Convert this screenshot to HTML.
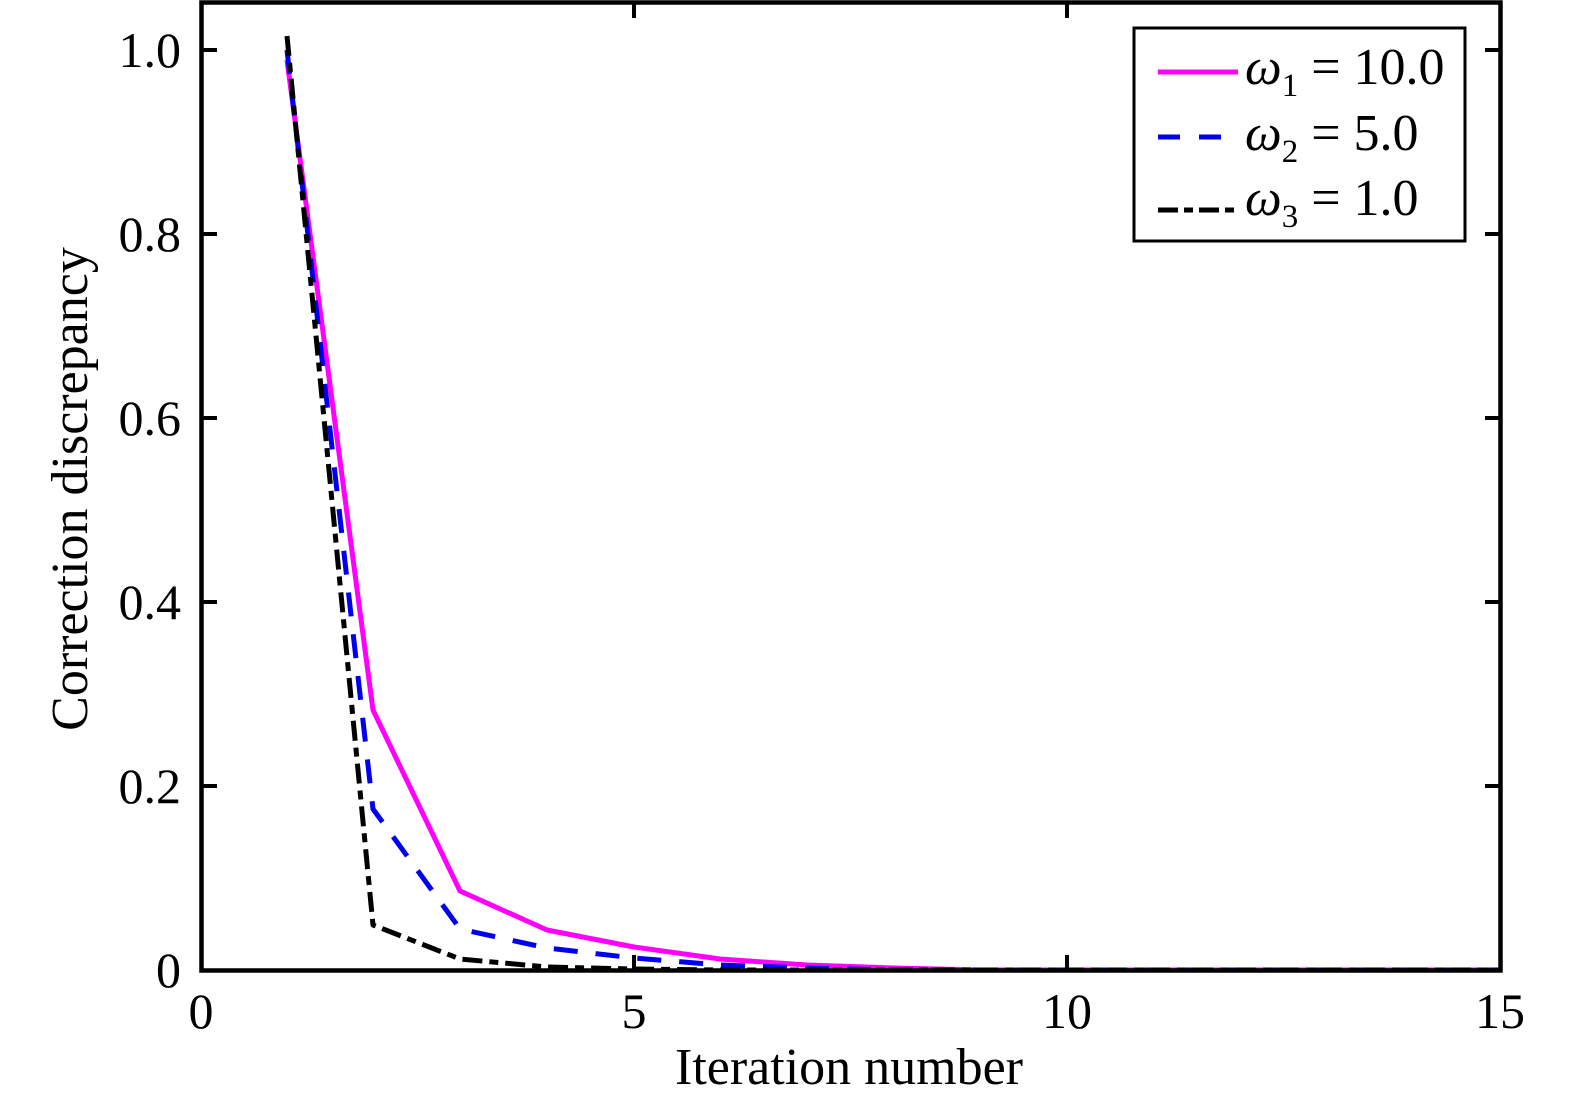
<!DOCTYPE html>
<html><head><meta charset="utf-8"><style>
html,body{margin:0;padding:0;background:#fff;}
svg{display:block;}
text{font-family:"Liberation Serif",serif;fill:#000;}
</style></head><body>
<svg width="1575" height="1104" viewBox="0 0 1575 1104" xmlns="http://www.w3.org/2000/svg">
<rect x="0" y="0" width="1575" height="1104" fill="#fff"/>
<g fill="none" stroke-width="5" stroke-linejoin="round">
<polyline stroke="#ff00ff" points="287,60 373,710 460,891 547,930 634,947 720,959 807,965 894,968 980,970 1067,970 1154,970 1241,970 1328,970 1414,970 1501,970"/>
<polyline stroke="#0000ee" stroke-dasharray="24,18" points="287,50 373,809 460,929 547,948 634,958 720,965 807,968 894,970 980,970 1067,970 1154,970 1241,970 1328,970 1414,970 1501,970"/>
<polyline stroke="#000" stroke-dasharray="20,7,9,7" points="287,36 373,925 460,959 547,967 634,969 720,970 807,970 894,970 980,970 1067,970 1154,970 1241,970 1328,970 1414,970 1501,970"/>
</g>
<rect x="201.5" y="2.5" width="1299" height="968" fill="none" stroke="#000" stroke-width="4.5"/>
<g stroke="#000" stroke-width="4">
<line x1="203" y1="50" x2="217" y2="50"/><line x1="203" y1="234" x2="217" y2="234"/><line x1="203" y1="418" x2="217" y2="418"/><line x1="203" y1="602" x2="217" y2="602"/><line x1="203" y1="786" x2="217" y2="786"/>
<line x1="1499" y1="50" x2="1485" y2="50"/><line x1="1499" y1="234" x2="1485" y2="234"/><line x1="1499" y1="418" x2="1485" y2="418"/><line x1="1499" y1="602" x2="1485" y2="602"/><line x1="1499" y1="786" x2="1485" y2="786"/>
<line x1="634" y1="969" x2="634" y2="955"/><line x1="1067" y1="969" x2="1067" y2="955"/>
<line x1="634" y1="4" x2="634" y2="18"/><line x1="1067" y1="4" x2="1067" y2="18"/>
</g>
<g font-size="50" text-anchor="end">
<text x="181" y="67">1.0</text><text x="181" y="251">0.8</text><text x="181" y="435">0.6</text><text x="181" y="619">0.4</text><text x="181" y="803">0.2</text><text x="181" y="987">0</text>
</g>
<g font-size="50" text-anchor="middle">
<text x="201" y="1028">0</text><text x="634" y="1028">5</text><text x="1067" y="1028">10</text><text x="1500" y="1028">15</text>
</g>
<text x="849" y="1084" font-size="52" text-anchor="middle">Iteration number</text>
<text transform="translate(87,489) rotate(-90)" font-size="52" text-anchor="middle">Correction discrepancy</text>
<rect x="1134" y="28" width="331" height="213" fill="#fff" stroke="#000" stroke-width="3"/>
<g stroke-width="5">
<line x1="1158" y1="72" x2="1238" y2="72" stroke="#ff00ff"/>
<line x1="1158" y1="137" x2="1238" y2="137" stroke="#0000ee" stroke-dasharray="22,19"/>
<line x1="1158" y1="210" x2="1238" y2="210" stroke="#000" stroke-dasharray="20,6,9,6"/>
</g>
<g font-size="52">
<text x="1245" y="84"><tspan font-style="italic">ω</tspan><tspan font-size="33" dy="12">1</tspan><tspan dy="-12"> = 10.0</tspan></text>
<text x="1245" y="150"><tspan font-style="italic">ω</tspan><tspan font-size="33" dy="12">2</tspan><tspan dy="-12"> = 5.0</tspan></text>
<text x="1245" y="215"><tspan font-style="italic">ω</tspan><tspan font-size="33" dy="12">3</tspan><tspan dy="-12"> = 1.0</tspan></text>
</g>
</svg>
</body></html>
